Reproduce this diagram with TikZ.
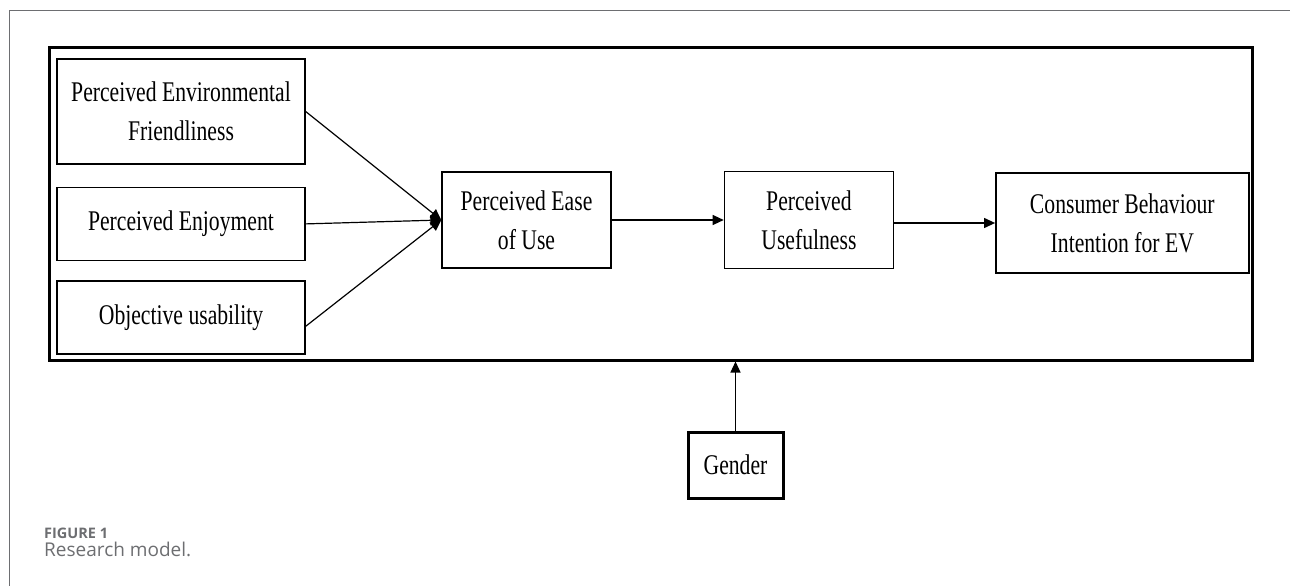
\documentclass[tikz,border=0pt]{standalone}
\usepackage{fontspec}
\setmainfont[FakeStretch=0.76]{Liberation Serif}
\newfontfamily\capfont{Open Sans}
\usepackage{tikz}
\usetikzlibrary{arrows.meta,positioning}

\definecolor{framegray}{HTML}{6D6E71}
\definecolor{capgray}{HTML}{6D6E71}

\tikzset{
  var/.style={draw,line width=1.4pt,rectangle,align=center,inner sep=0pt,
    font=\fontsize{28.5}{39}\selectfont},
  link/.style={->,line width=1.2pt}
}

\begin{document}
\begin{tikzpicture}[x=1pt,y=-1pt,>={Triangle[length=11pt,width=10pt]},node distance=20pt]
  \useasboundingbox (0,0) rectangle (1290,586);
  % figure frame (only the top and left edges show)
  \draw[framegray,line width=1.5pt] (9.5,586) |- (1290,10.5);
  % model box
  \node[draw,line width=3pt,minimum width=1203pt,minimum height=312pt,inner sep=0pt] (model) at (651,204) {};
  % antecedents
  \node[var,minimum width=248pt,minimum height=105pt] (pef) at (181,111.5) {Perceived Environmental\\Friendliness};
  \node[var,minimum width=248pt,minimum height=73pt] [below=22pt of pef] (pe) {Perceived Enjoyment};
  \node[var,minimum width=248pt,minimum height=73pt] [below=19pt of pe] (ou) {Objective usability};
  % mediators and outcome
  \node[var,minimum width=169pt,minimum height=96pt] (peou) at (526.5,220) {Perceived Ease\\of Use};
  \node[var,minimum width=169pt,minimum height=97pt] [right=112pt of peou] (pu) {Perceived\\Usefulness};
  \node[var,minimum width=253pt,minimum height=100pt] [right=101pt of pu,yshift=-3pt] (cbi) {Consumer Behaviour\\Intention for EV};
  % moderator
  \node[var,line width=3pt,minimum width=95pt,minimum height=66pt] (gender) at (735.5,465) {Gender};
  \path[link]
    (pef.east) edge (peou.west)
    (pe.east) edge (peou.west)
    ([yshift=-9pt]ou.east) edge (peou.west)
    (peou.east) edge (pu.west)
    (cbi.west -| pu.east) edge (cbi.west)
    (gender.north) edge (gender.north |- model.south);
  % caption
  \node[anchor=base west,inner sep=0pt,text=capgray,font=\capfont\bfseries\fontsize{14.5}{16}\selectfont] (fig) at (44,538) {FIGURE 1};
  \node[anchor=base west,inner sep=0pt,text=capgray,font=\capfont\fontsize{19}{20}\selectfont] (cap) at (44,556) {Research model.};
\end{tikzpicture}
\end{document}
